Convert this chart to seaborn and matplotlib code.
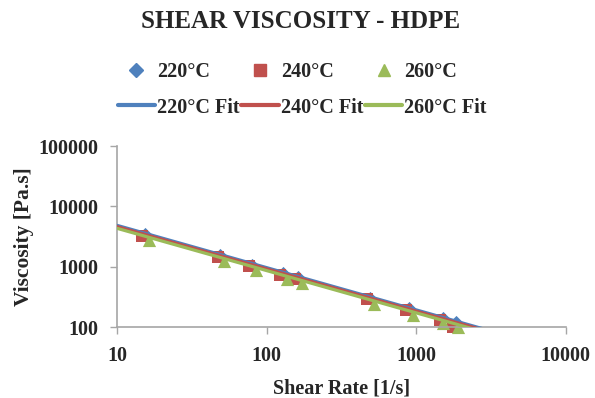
import matplotlib
matplotlib.use("Agg")
import matplotlib.pyplot as plt
from matplotlib.lines import Line2D
import seaborn as sns
import pandas as pd

# ---- data ----
shear_220 = [15.4, 49, 80, 129, 162, 490, 890, 1520, 1830]
visc_220 = [3480, 1550, 1090, 785, 670, 308, 205, 142, 124]
shear_240 = [14.7, 47, 76, 123, 155, 468, 850, 1450, 1750]
visc_240 = [3260, 1445, 1030, 736, 627, 289, 190, 131, 100]
shear_260 = [16.4, 52, 85, 137, 172, 520, 950, 1500, 1900]
visc_260 = [2750, 1227, 869, 622, 531, 245, 161, 117, 99]

fit_x = [10, 10000]
fit_220 = [4850, 38.5]
fit_240 = [4620, 36.7]
fit_260 = [4330, 34.4]

labels = ["220\u00b0C", "240\u00b0C", "260\u00b0C"]
colors = ["#4F81BD", "#C0504D", "#9BBB59"]
markers = ["D", "s", "^"]

pts = pd.concat([
    pd.DataFrame({"shear": shear_220, "visc": visc_220, "series": labels[0]}),
    pd.DataFrame({"shear": shear_240, "visc": visc_240, "series": labels[1]}),
    pd.DataFrame({"shear": shear_260, "visc": visc_260, "series": labels[2]}),
])
fits = pd.concat([
    pd.DataFrame({"shear": fit_x, "visc": fit_220, "series": labels[0] + " Fit"}),
    pd.DataFrame({"shear": fit_x, "visc": fit_240, "series": labels[1] + " Fit"}),
    pd.DataFrame({"shear": fit_x, "visc": fit_260, "series": labels[2] + " Fit"}),
])

sns.set_theme(style="white")
plt.rcParams["font.family"] = ["Liberation Serif", "DejaVu Serif"]
plt.rcParams["font.weight"] = "bold"

fig = plt.figure(figsize=(5.95, 3.98), dpi=100)
ax = fig.add_axes([0.197, 0.178, 0.754, 0.455])

sizes = {"D": 45, "s": 80, "^": 90}
for lab, col, mk in zip(labels, colors, markers):
    d = pts[pts["series"] == lab]
    sns.scatterplot(data=d, x="shear", y="visc", color=col, marker=mk, s=sizes[mk],
                    edgecolor=col, linewidth=0, ax=ax, legend=False, zorder=2,
                    clip_on=False)

for lab, col in zip(labels, colors):
    d = fits[fits["series"] == lab + " Fit"]
    sns.lineplot(data=d, x="shear", y="visc", color=col, linewidth=2.3,
                 ax=ax, legend=False, zorder=3)

ax.set_xscale("log")
ax.set_yscale("log")
ax.set_xlim(10, 10000)
ax.set_ylim(100, 100000)
ax.minorticks_off()
ax.set_xticks([10, 100, 1000, 10000])
ax.set_xticklabels(["10", "100", "1000", "10000"])
ax.set_yticks([100, 1000, 10000, 100000])
ax.set_yticklabels(["100", "1000", "10000", "100000"])
ax.tick_params(axis="both", which="major", labelsize=14.5, length=5, width=1,
               color="#A6A6A6", direction="out", bottom=True, left=True, pad=8.5)
for lbl in ax.get_xticklabels() + ax.get_yticklabels():
    lbl.set_fontweight("bold")
for s in ["top", "right"]:
    ax.spines[s].set_visible(False)
for s in ["left", "bottom"]:
    ax.spines[s].set_color("#A6A6A6")
    ax.spines[s].set_linewidth(1.2)
ax.grid(False)

ax.set_xlabel("Shear Rate [1/s]", fontsize=14.5, fontweight="bold")
ax.set_ylabel("Viscosity [Pa.s]", fontsize=15.5, fontweight="bold")
ax.xaxis.set_label_coords(0.5, -0.337)
ax.xaxis.label.set_va("center")
ax.yaxis.set_label_coords(-0.207, 0.5)
ax.yaxis.label.set_va("center")

fig.text(0.505, 0.947, "SHEAR VISCOSITY - HDPE", fontsize=18, fontweight="bold",
         ha="center", va="center")

handles = []
names = []
msize = {"D": 7.5, "s": 8.5, "^": 9}
for lab, col, mk in zip(labels, colors, markers):
    handles.append(Line2D([], [], linestyle="none", marker=mk, color=col,
                          markersize=msize[mk]))
    names.append(lab)
    handles.append(Line2D([], [], color=col, linewidth=3))
    names.append(lab + " Fit")
leg = fig.legend(handles, names, ncol=3, loc="center", bbox_to_anchor=(0.508, 0.774),
                 frameon=False, fontsize=14.5, handlelength=1.85, handletextpad=0.1,
                 columnspacing=0.1, labelspacing=0.75, borderpad=0, borderaxespad=0)
for t in leg.get_texts():
    t.set_fontweight("bold")

fig.savefig("out.png", dpi=100)
